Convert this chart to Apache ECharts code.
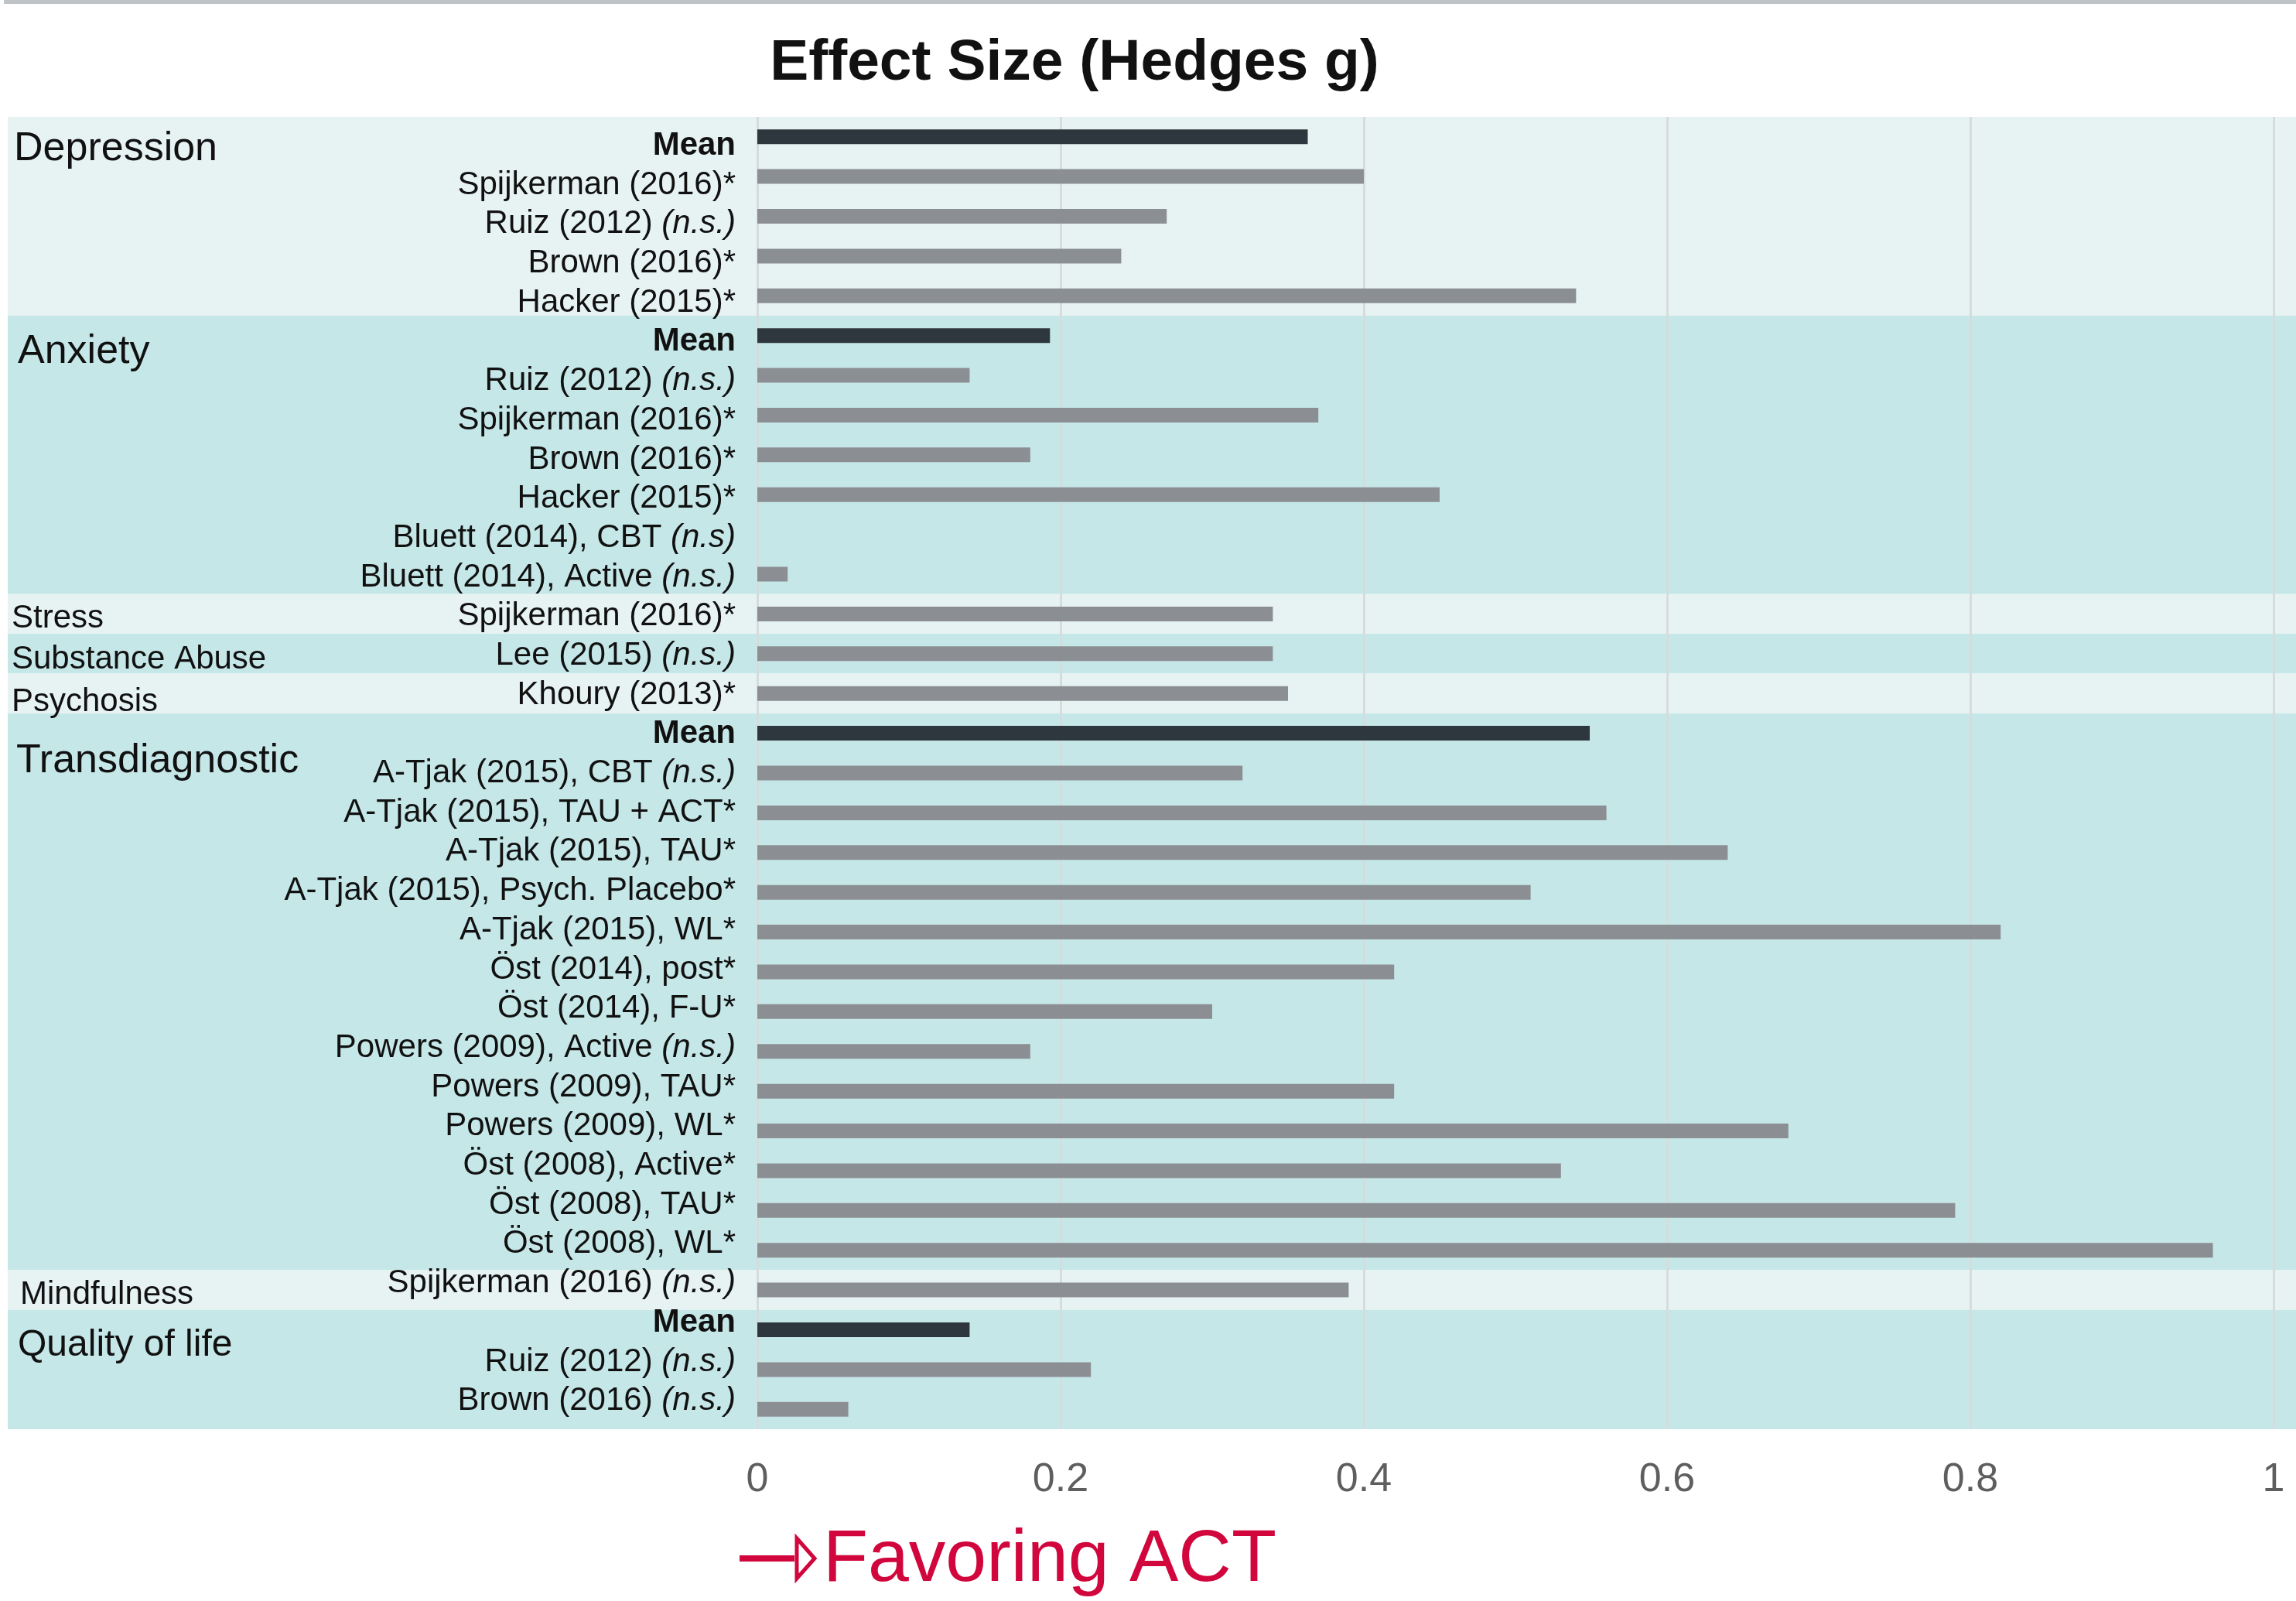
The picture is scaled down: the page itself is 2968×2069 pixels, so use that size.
<!DOCTYPE html>
<html>
<head>
<meta charset="utf-8">
<title>Effect Size (Hedges g)</title>
<script src="https://cdn.jsdelivr.net/npm/echarts@6/dist/echarts.min.js"></script>
<style>
  html, body { margin: 0; padding: 0; background: #fff; }
  #chart { width: 2968px; height: 2069px; }
</style>
</head>
<body>
<div id="chart"></div>
<script>
// outcome groups, in order, with the number of rows each one holds
const groupNames = ['Depression', 'Anxiety', 'Stress', 'Substance Abuse', 'Psychosis', 'Transdiagnostic', 'Mindfulness', 'Quality of life'];
const groupSizes = [5, 7, 1, 1, 1, 14, 1, 3];

const studies = [
    'Mean', 'Spijkerman (2016)*', 'Ruiz (2012) (n.s.)', 'Brown (2016)*', 'Hacker (2015)*',
    'Mean', 'Ruiz (2012) (n.s.)', 'Spijkerman (2016)*', 'Brown (2016)*', 'Hacker (2015)*', 'Bluett (2014), CBT (n.s)', 'Bluett (2014), Active (n.s.)',
    'Spijkerman (2016)*',
    'Lee (2015) (n.s.)',
    'Khoury (2013)*',
    'Mean', 'A-Tjak (2015), CBT (n.s.)', 'A-Tjak (2015), TAU + ACT*', 'A-Tjak (2015), TAU*', 'A-Tjak (2015), Psych. Placebo*', 'A-Tjak (2015), WL*',
    'Öst (2014), post*', 'Öst (2014), F-U*', 'Powers (2009), Active (n.s.)', 'Powers (2009), TAU*', 'Powers (2009), WL*',
    'Öst (2008), Active*', 'Öst (2008), TAU*', 'Öst (2008), WL*',
    'Spijkerman (2016) (n.s.)',
    'Mean', 'Ruiz (2012) (n.s.)', 'Brown (2016) (n.s.)'
];
const hedgesG = [
    0.363, 0.40, 0.27, 0.24, 0.54,
    0.193, 0.14, 0.37, 0.18, 0.45, 0, 0.02,
    0.34,
    0.34,
    0.35,
    0.549, 0.32, 0.56, 0.64, 0.51, 0.82, 0.42, 0.30, 0.18, 0.42, 0.68, 0.53, 0.79, 0.96,
    0.39,
    0.14, 0.22, 0.06
];
const xTicks = [0, 0.2, 0.4, 0.6, 0.8, 1];

// styling
const FONT = '"Liberation Sans", Arial, Helvetica, sans-serif';
const LIGHT = '#e7f3f3', DARK = '#c6e7e8';
const groupFont = [52, 52, 42, 42, 42, 52, 42, 48];
const groupX = [18, 23, 15, 15, 15, 21, 26, 23];
const groupDy = [16, 21, 6, 8, 11, 36, 6, 20];

// band colour for each row from its group
const rowColors = [];
groupSizes.forEach((n, gi) => {
    for (let k = 0; k < n; k++) rowColors.push(gi % 2 === 0 ? LIGHT : DARK);
});

const chart = echarts.init(document.getElementById('chart'));
const GRID_TOP = 151, GRID_H = 1696;

chart.setOption({
    animation: false,
    backgroundColor: '#fff',
    title: {
        text: 'Effect Size (Hedges g)',
        left: 1389, top: 45, padding: 0,
        textAlign: 'center',
        textStyle: { fontSize: 75, fontWeight: 'bold', color: '#111', fontFamily: FONT }
    },
    grid: [
        { left: 979, width: 1960, top: GRID_TOP, height: GRID_H, outerBoundsMode: 'none' },
        { left: 10, right: 0, top: GRID_TOP, height: GRID_H, outerBoundsMode: 'none' },
        // the study labels sit on a slightly tighter pitch than the bars
        { left: 979, width: 1960, top: 163, height: 1673, outerBoundsMode: 'none' }
    ],
    xAxis: [
        {
            type: 'value', gridIndex: 0, z: 2,
            min: xTicks[0], max: xTicks[xTicks.length - 1], interval: xTicks[1] - xTicks[0],
            axisLine: { show: false },
            axisTick: { show: false },
            splitLine: { show: true, lineStyle: { color: '#d6dcdc', width: 3 } },
            axisLabel: {
                fontSize: 52, color: '#5e5e5e', fontFamily: FONT, margin: 40,
                formatter: (v) => String(+v.toFixed(1))
            }
        },
        { type: 'value', gridIndex: 1, min: 0, max: 1, show: false },
        { type: 'value', gridIndex: 2, min: 0, max: 1, show: false }
    ],
    yAxis: [
        {
            type: 'category', gridIndex: 0, inverse: true, z: 3,
            data: studies,
            axisLine: { show: false },
            axisTick: { show: false },
            splitLine: { show: false },
            axisLabel: { show: false }
        },
        {
            type: 'category', gridIndex: 1, inverse: true, z: 0,
            data: studies,
            axisLine: { show: false },
            axisTick: { show: false },
            axisLabel: { show: false },
            splitLine: { show: false },
            splitArea: { show: true, interval: 0, areaStyle: { color: rowColors } }
        },
        {
            type: 'category', gridIndex: 2, inverse: true, z: 3,
            data: studies,
            axisLine: { show: false },
            axisTick: { show: false },
            splitLine: { show: false },
            axisLabel: {
                interval: 0, margin: 28,
                formatter: (value) => {
                    if (value === 'Mean') return '{b|Mean}';
                    const m = value.match(/^(.*?)(\(n\.s\.?\))$/);
                    if (m) return '{n|' + m[1] + '}{i|' + m[2] + '}';
                    return '{n|' + value + '}';
                },
                rich: {
                    n: { fontSize: 42, color: '#111', fontFamily: FONT },
                    b: { fontSize: 42, color: '#111', fontFamily: FONT, fontWeight: 'bold' },
                    i: { fontSize: 42, color: '#111', fontFamily: FONT, fontStyle: 'italic' }
                }
            }
        }
    ],
    series: [{
        type: 'bar',
        xAxisIndex: 0, yAxisIndex: 0, z: 4,
        barWidth: 19,
        data: hedgesG,
        itemStyle: {
            color: (p) => studies[p.dataIndex] === 'Mean' ? '#2e363e' : '#8b8f93'
        }
    }]
});

// group labels placed on their first row, via the category axis
const texts = [];
let start = 0;
groupNames.forEach((g, gi) => {
    const y = chart.convertToPixel({ yAxisIndex: 0 }, start);
    texts.push({
        type: 'text', z: 10,
        style: {
            x: groupX[gi], y: y + groupDy[gi], text: g,
            font: groupFont[gi] + 'px ' + FONT, fill: '#111',
            align: 'left', verticalAlign: 'middle'
        }
    });
    start += groupSizes[gi];
});

chart.setOption({
    graphic: [
        { type: 'rect', z: 10, shape: { x: 5, y: 0, width: 2963, height: 5 }, style: { fill: '#bdc3c7' } },
        ...texts,
        { type: 'line', z: 10, shape: { x1: 956, y1: 2014, x2: 1027, y2: 2014 }, style: { stroke: '#d1063d', lineWidth: 8 } },
        { type: 'polygon', z: 10, shape: { points: [[1030, 1988], [1053, 2014], [1030, 2040]] }, style: { fill: '#fff', stroke: '#d1063d', lineWidth: 5 } },
        {
            type: 'text', z: 10,
            style: { x: 1064, y: 2017, text: 'Favoring ACT', font: '95px ' + FONT, fill: '#d1063d', align: 'left', verticalAlign: 'middle' }
        }
    ]
});
</script>
</body>
</html>
